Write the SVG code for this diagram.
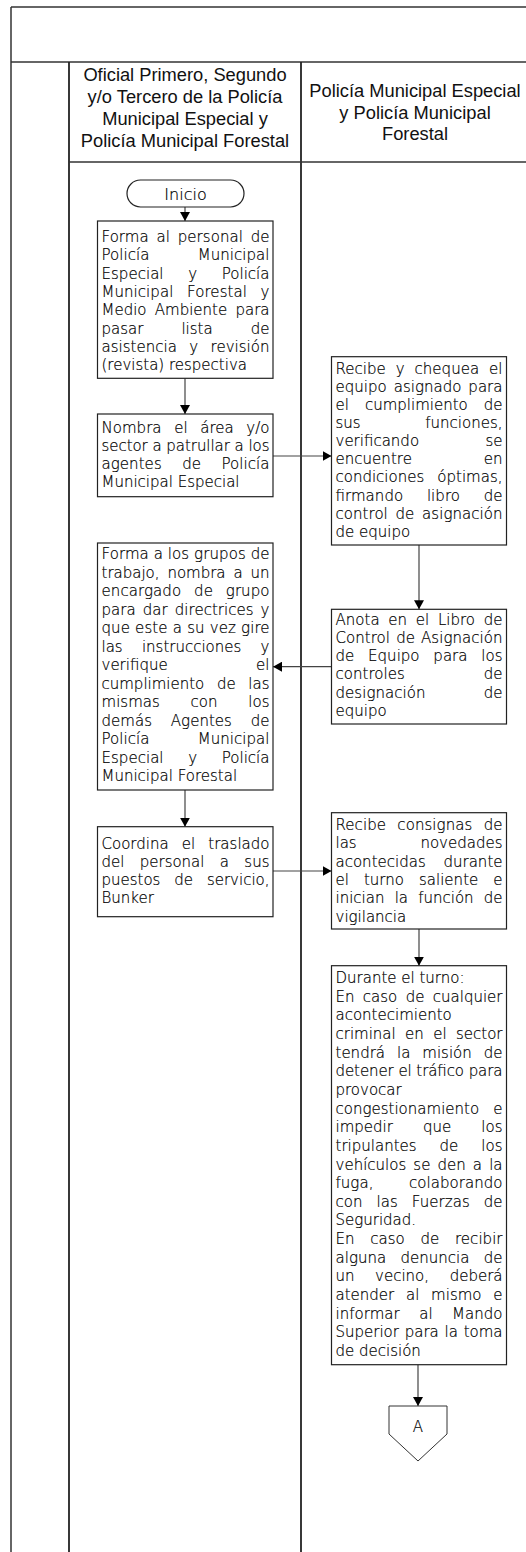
<svg xmlns="http://www.w3.org/2000/svg" width="526" height="1552" viewBox="0 0 526 1552">
<style>
.frame{stroke:#333;stroke-width:1.5;fill:none}
.lane{stroke:#222;stroke-width:1.8;fill:none}
.box{fill:#fff;stroke:#222;stroke-width:1.2}
.term{fill:#fff;stroke:#222;stroke-width:1.2}
.conn{stroke:#444;stroke-width:1.2;fill:none;marker-end:url(#ah)}
.h{font-family:"Liberation Sans",Arial,sans-serif;font-size:18.3px;fill:#111;text-anchor:middle}
.t{font-family:"DejaVu Sans","Liberation Sans",sans-serif;font-size:15px;font-weight:200;fill:#000;stroke:#000;stroke-width:0.2}
.c{text-anchor:middle}
</style>
<defs>
<marker id="ah" markerUnits="userSpaceOnUse" markerWidth="10" markerHeight="10" refX="9" refY="5" orient="auto">
<path d="M0,0 L9,5 L0,10 Z" fill="#000"/>
</marker>
</defs>
<rect width="526" height="1552" fill="#fff"/>
<g id="frame">
<line class="frame" x1="11" y1="7" x2="526" y2="7"/>
<line class="frame" x1="11" y1="7" x2="11" y2="1552"/>
<line class="frame" x1="11" y1="62" x2="526" y2="62"/>
<line class="lane" x1="69" y1="62" x2="69" y2="1552"/>
<line class="lane" x1="301" y1="62" x2="301" y2="1552"/>
<line class="frame" x1="69" y1="162" x2="526" y2="162"/>
</g>
<g id="lane-headers">
<text class="h" x="185" y="81">Oficial Primero, Segundo</text>
<text class="h" x="185" y="103">y/o Tercero de la Policía</text>
<text class="h" x="185" y="125">Municipal Especial y</text>
<text class="h" x="185" y="147">Policía Municipal Forestal</text>
<text class="h" x="415" y="97">Policía Municipal Especial</text>
<text class="h" x="415" y="118.5">y Policía Municipal</text>
<text class="h" x="415" y="140">Forestal</text>
</g>
<g id="connectors">
<line class="conn" x1="185" y1="207" x2="185" y2="221"/>
<line class="conn" x1="185" y1="378.3" x2="185" y2="414"/>
<line class="conn" x1="273" y1="456" x2="331.5" y2="456"/>
<line class="conn" x1="419" y1="545" x2="419" y2="609.3"/>
<line class="conn" x1="331.5" y1="666.7" x2="273" y2="666.7"/>
<line class="conn" x1="185" y1="790" x2="185" y2="826.7"/>
<line class="conn" x1="273" y1="871" x2="331.5" y2="871"/>
<line class="conn" x1="419" y1="929" x2="419" y2="965.7"/>
<line class="conn" x1="418" y1="1364.7" x2="418" y2="1406"/>
</g>
<g id="n-inicio">
<rect class="term" x="127" y="180" width="117" height="27" rx="13.5"/>
<text class="t c" x="185.5" y="200" style="font-size:16px">Inicio</text>
</g>
<g id="n-b1">
<rect class="box" x="97.5" y="221" width="175.5" height="157.3"/>
<text class="t" x="101.5" y="242" textLength="168" lengthAdjust="spacing" word-spacing="3">Forma al personal de</text>
<text class="t" x="101.5" y="260.3" textLength="168" lengthAdjust="spacing" word-spacing="43.6">Policía Municipal</text>
<text class="t" x="101.5" y="278.6" textLength="168" lengthAdjust="spacing" word-spacing="19.8">Especial y Policía</text>
<text class="t" x="101.5" y="296.9" textLength="168" lengthAdjust="spacing" word-spacing="8.9">Municipal Forestal y</text>
<text class="t" x="101.5" y="315.2" textLength="168" lengthAdjust="spacing" word-spacing="3.5">Medio Ambiente para</text>
<text class="t" x="101.5" y="333.5" textLength="168" lengthAdjust="spacing" word-spacing="33.3">pasar lista de</text>
<text class="t" x="101.5" y="351.8" textLength="168" lengthAdjust="spacing" word-spacing="7.6">asistencia y revisión</text>
<text class="t" x="101.5" y="370.1">(revista) respectiva</text>
</g>
<g id="n-b2">
<rect class="box" x="97.5" y="414" width="175.5" height="82.7"/>
<text class="t" x="101.5" y="432.5" textLength="168" lengthAdjust="spacing" word-spacing="7.8">Nombra el área y/o</text>
<text class="t" x="101.5" y="450.8" textLength="168" lengthAdjust="spacing" word-spacing="0">sector a patrullar a los</text>
<text class="t" x="101.5" y="469.1" textLength="168" lengthAdjust="spacing" word-spacing="15.6">agentes de Policía</text>
<text class="t" x="101.5" y="487.4">Municipal Especial</text>
</g>
<g id="n-b3">
<rect class="box" x="331.5" y="356.7" width="175" height="188.3"/>
<text class="t" x="335.5" y="373.5" textLength="167" lengthAdjust="spacing" word-spacing="5.1">Recibe y chequea el</text>
<text class="t" x="335.5" y="391.6" textLength="167" lengthAdjust="spacing" word-spacing="2.1">equipo asignado para</text>
<text class="t" x="335.5" y="409.8" textLength="167" lengthAdjust="spacing" word-spacing="11.2">el cumplimiento de</text>
<text class="t" x="335.5" y="427.9" textLength="167" lengthAdjust="spacing" word-spacing="59.9">sus funciones,</text>
<text class="t" x="335.5" y="446.1" textLength="167" lengthAdjust="spacing" word-spacing="61.6">verificando se</text>
<text class="t" x="335.5" y="464.2" textLength="167" lengthAdjust="spacing" word-spacing="67">encuentre en</text>
<text class="t" x="335.5" y="482.4" textLength="167" lengthAdjust="spacing" word-spacing="8.3">condiciones óptimas,</text>
<text class="t" x="335.5" y="500.5" textLength="167" lengthAdjust="spacing" word-spacing="18.9">firmando libro de</text>
<text class="t" x="335.5" y="518.7" textLength="167" lengthAdjust="spacing" word-spacing="2.9">control de asignación</text>
<text class="t" x="335.5" y="536.8">de equipo</text>
</g>
<g id="n-b4">
<rect class="box" x="331.5" y="609.3" width="175" height="114.7"/>
<text class="t" x="335.5" y="625" textLength="167" lengthAdjust="spacing" word-spacing="3.9">Anota en el Libro de</text>
<text class="t" x="335.5" y="643.1" textLength="167" lengthAdjust="spacing" word-spacing="1.3">Control de Asignación</text>
<text class="t" x="335.5" y="661.3" textLength="167" lengthAdjust="spacing" word-spacing="9.1">de Equipo para los</text>
<text class="t" x="335.5" y="679.4" textLength="167" lengthAdjust="spacing" word-spacing="74.1">controles de</text>
<text class="t" x="335.5" y="697.6" textLength="167" lengthAdjust="spacing" word-spacing="53.4">designación de</text>
<text class="t" x="335.5" y="715.7">equipo</text>
</g>
<g id="n-b5">
<rect class="box" x="97.5" y="543" width="175.5" height="247"/>
<text class="t" x="101.5" y="559" textLength="168" lengthAdjust="spacing" word-spacing="0">Forma a los grupos de</text>
<text class="t" x="101.5" y="577.5" textLength="168" lengthAdjust="spacing" word-spacing="3.1">trabajo, nombra a un</text>
<text class="t" x="101.5" y="596" textLength="168" lengthAdjust="spacing" word-spacing="8">encargado de grupo</text>
<text class="t" x="101.5" y="614.5" textLength="168" lengthAdjust="spacing" word-spacing="2.3">para dar directrices y</text>
<text class="t" x="101.5" y="633" textLength="168" lengthAdjust="spacing" word-spacing="0.4">que este a su vez gire</text>
<text class="t" x="101.5" y="651.5" textLength="168" lengthAdjust="spacing" word-spacing="14.5">las instrucciones y</text>
<text class="t" x="101.5" y="670" textLength="168" lengthAdjust="spacing" word-spacing="83.7">verifique el</text>
<text class="t" x="101.5" y="688.5" textLength="168" lengthAdjust="spacing" word-spacing="7.9">cumplimiento de las</text>
<text class="t" x="101.5" y="707" textLength="168" lengthAdjust="spacing" word-spacing="26">mismas con los</text>
<text class="t" x="101.5" y="725.5" textLength="168" lengthAdjust="spacing" word-spacing="14">demás Agentes de</text>
<text class="t" x="101.5" y="744" textLength="168" lengthAdjust="spacing" word-spacing="43.6">Policía Municipal</text>
<text class="t" x="101.5" y="762.5" textLength="168" lengthAdjust="spacing" word-spacing="19.8">Especial y Policía</text>
<text class="t" x="101.5" y="781">Municipal Forestal</text>
</g>
<g id="n-b6">
<rect class="box" x="97.5" y="826.7" width="175.5" height="90"/>
<text class="t" x="101.5" y="848.5" textLength="168" lengthAdjust="spacing" word-spacing="8.3">Coordina el traslado</text>
<text class="t" x="101.5" y="866.8" textLength="168" lengthAdjust="spacing" word-spacing="10.6">del personal a sus</text>
<text class="t" x="101.5" y="885.1" textLength="168" lengthAdjust="spacing" word-spacing="9.1">puestos de servicio,</text>
<text class="t" x="101.5" y="903.4">Bunker</text>
</g>
<g id="n-b7">
<rect class="box" x="331.5" y="812.7" width="175" height="116.3"/>
<text class="t" x="335.5" y="830" textLength="167" lengthAdjust="spacing" word-spacing="6.5">Recibe consignas de</text>
<text class="t" x="335.5" y="848.3" textLength="167" lengthAdjust="spacing" word-spacing="59">las novedades</text>
<text class="t" x="335.5" y="866.7" textLength="167" lengthAdjust="spacing" word-spacing="13">acontecidas durante</text>
<text class="t" x="335.5" y="885" textLength="167" lengthAdjust="spacing" word-spacing="10.2">el turno saliente e</text>
<text class="t" x="335.5" y="903.3" textLength="167" lengthAdjust="spacing" word-spacing="5.4">inician la función de</text>
<text class="t" x="335.5" y="921.7">vigilancia</text>
</g>
<g id="n-b8">
<rect class="box" x="331.5" y="965.7" width="175" height="399"/>
<text class="t" x="335.5" y="983">Durante el turno:</text>
<text class="t" x="335.5" y="1001.6" textLength="167" lengthAdjust="spacing" word-spacing="3.6">En caso de cualquier</text>
<text class="t" x="335.5" y="1020.3">acontecimiento</text>
<text class="t" x="335.5" y="1038.9" textLength="167" lengthAdjust="spacing" word-spacing="4.6">criminal en el sector</text>
<text class="t" x="335.5" y="1057.6" textLength="167" lengthAdjust="spacing" word-spacing="7.2">tendrá la misión de</text>
<text class="t" x="335.5" y="1076.2" textLength="167" lengthAdjust="spacing" word-spacing="0">detener el tráfico para</text>
<text class="t" x="335.5" y="1094.9">provocar</text>
<text class="t" x="335.5" y="1113.5" textLength="167" lengthAdjust="spacing" word-spacing="9.3">congestionamiento e</text>
<text class="t" x="335.5" y="1132.2" textLength="167" lengthAdjust="spacing" word-spacing="25.3">impedir que los</text>
<text class="t" x="335.5" y="1150.8" textLength="167" lengthAdjust="spacing" word-spacing="18.2">tripulantes de los</text>
<text class="t" x="335.5" y="1169.5" textLength="167" lengthAdjust="spacing" word-spacing="2.3">vehículos se den a la</text>
<text class="t" x="335.5" y="1188.1" textLength="167" lengthAdjust="spacing" word-spacing="30.7">fuga, colaborando</text>
<text class="t" x="335.5" y="1206.8" textLength="167" lengthAdjust="spacing" word-spacing="9.1">con las Fuerzas de</text>
<text class="t" x="335.5" y="1225.4">Seguridad.</text>
<text class="t" x="335.5" y="1244.1" textLength="167" lengthAdjust="spacing" word-spacing="10.9">En caso de recibir</text>
<text class="t" x="335.5" y="1262.7" textLength="167" lengthAdjust="spacing" word-spacing="9.4">alguna denuncia de</text>
<text class="t" x="335.5" y="1281.4" textLength="167" lengthAdjust="spacing" word-spacing="15.8">un vecino, deberá</text>
<text class="t" x="335.5" y="1300" textLength="167" lengthAdjust="spacing" word-spacing="7">atender al mismo e</text>
<text class="t" x="335.5" y="1318.7" textLength="167" lengthAdjust="spacing" word-spacing="14.7">informar al Mando</text>
<text class="t" x="335.5" y="1337.3" textLength="167" lengthAdjust="spacing" word-spacing="1">Superior para la toma</text>
<text class="t" x="335.5" y="1356">de decisión</text>
</g>
<g id="n-a">
<path d="M389,1406 L447,1406 L447,1434 L418,1461 L389,1434 Z" fill="#fff" stroke="#333" stroke-width="1"/>
<text class="t c" x="418" y="1432">A</text>
</g>
</svg>
